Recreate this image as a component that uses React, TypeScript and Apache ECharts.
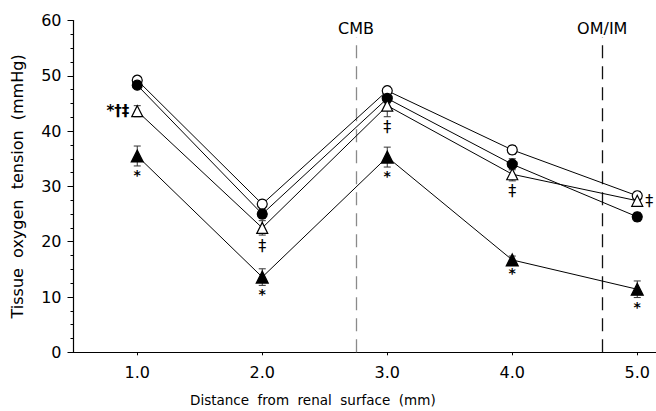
import React, { useEffect, useRef } from "react";
import * as echarts from "echarts";

const xValues = [1.0, 2.0, 3.0, 4.0, 5.0];
const openCircle = [49.2, 26.8, 47.3, 36.6, 28.3];
const openCircleErr = [0.6, 0.7, 0.8, 0.8, 0.8];
const filledCircle = [48.3, 25.0, 45.9, 34.0, 24.5];
const filledCircleErr = [0.5, 0.8, 0.8, 1.0, 0.8];
const openTriangle = [43.6, 22.5, 44.6, 32.2, 27.4];
const openTriangleErr = [1.0, 1.3, 2.0, 1.2, 1.0];
const filledTriangle = [35.5, 13.6, 35.3, 16.7, 11.4];
const filledTriangleErr = [1.8, 1.5, 1.8, 0.7, 1.5];

const yTicks = [0, 10, 20, 30, 40, 50, 60];
const xTickLabels = ["1.0", "2.0", "3.0", "4.0", "5.0"];

const boundaryX = [2.75, 4.72];
const boundaryLabels = ["CMB", "OM/IM"];
const boundaryColors = ["#8a8a8a", "#111111"];

// annotations: text, series index, x index, placement
const annoText = ["*", "*", "*", "*", "*", "*†‡", "‡", "‡", "‡", "‡"];
const annoSeries = [3, 3, 3, 3, 3, 2, 2, 2, 2, 2];
const annoIndex = [0, 1, 2, 3, 4, 0, 1, 2, 3, 4];
const annoPlace = ["below", "below", "below", "below", "below", "left", "below", "below", "below", "right"];

const seriesValues = [openCircle, filledCircle, openTriangle, filledTriangle];
const seriesErrs = [openCircleErr, filledCircleErr, openTriangleErr, filledTriangleErr];

const FONT = "DejaVu Sans";

export default function App() {
  const ref = useRef<HTMLDivElement>(null);
  useEffect(() => {
    if (!ref.current) return;
    const chart = echarts.init(ref.current, null, { renderer: "svg" });

    const lineSeries = (name: string, vals: number[], symbol: string, size: number, fill: string) => ({
      name,
      type: "line",
      data: xValues.map((x, i) => [x, vals[i]]),
      symbol,
      symbolSize: size,
      showAllSymbol: true,
      lineStyle: { color: "#000", width: 1 },
      itemStyle: { color: fill, borderColor: "#000", borderWidth: 1.2, opacity: 1 },
      z: 5,
      emphasis: { disabled: true },
    });

    const errData: number[][] = [];
    seriesValues.forEach((vals, s) => {
      vals.forEach((v, i) => errData.push([xValues[i], v - seriesErrs[s][i], v + seriesErrs[s][i]]));
    });

    const annoData = annoText.map((t, k) => {
      const s = annoSeries[k];
      const i = annoIndex[k];
      return [xValues[i], seriesValues[s][i], seriesErrs[s][i], k];
    });

    chart.setOption({
      animation: false,
      color: ["#000"],
      grid: { left: 73.5, right: 0, top: 20.5, bottom: 58.7, containLabel: false },
      xAxis: {
        type: "value",
        min: 0.49,
        max: 5.15,
        interval: 1,
        axisLine: { show: true, onZero: false, lineStyle: { color: "#000", width: 1.2 } },
        axisTick: { show: true, length: 3, lineStyle: { color: "#000" }, customValues: xValues },
        axisLabel: {
          customValues: xValues,
          formatter: (v: number) => xTickLabels[xValues.indexOf(v)] ?? "",
          color: "#000",
          fontFamily: FONT,
          fontSize: 16,
          margin: 12,
        },
        splitLine: { show: false },
      },
      yAxis: {
        type: "value",
        min: 0,
        max: 60,
        interval: 10,
        axisLine: { show: true, lineStyle: { color: "#000", width: 1.2 } },
        axisTick: { show: true, length: 6, lineStyle: { color: "#000" } },
        minorTick: { show: true, splitNumber: 4, length: 3, lineStyle: { color: "#000" } },
        axisLabel: {
          formatter: (v: number) => (yTicks.includes(v) ? String(v) : ""),
          color: "#000",
          fontFamily: FONT,
          fontSize: 16,
          margin: 12,
        },
        splitLine: { show: false },
        name: "Tissue  oxygen  tension  (mmHg)",
        nameLocation: "middle",
        nameGap: 48,
        nameTextStyle: { color: "#000", fontFamily: FONT, fontSize: 16, padding: [0, 0, 0, 0] },
      },
      graphic: [
        {
          type: "text",
          left: 190,
          top: 393,
          style: {
            text: "Distance  from  renal  surface  (mm)",
            fill: "#000",
            font: `13.5px "${FONT}"`,
          },
        },
      ],
      series: [
        lineSeries("open circle", openCircle, "circle", 10, "#fff"),
        lineSeries("filled circle", filledCircle, "circle", 10, "#000"),
        lineSeries("open triangle", openTriangle, "triangle", 11, "#fff"),
        lineSeries("filled triangle", filledTriangle, "triangle", 12, "#000"),
        {
          type: "custom",
          name: "error bars",
          data: errData,
          z: 4,
          itemStyle: { color: "#333" },
          renderItem: (params: any, api: any) => {
            const x = api.value(0);
            const lo = api.coord([x, api.value(1)]);
            const hi = api.coord([x, api.value(2)]);
            const w = 3.5;
            const style = { stroke: "#333", lineWidth: 1 };
            return {
              type: "group",
              children: [
                { type: "line", shape: { x1: lo[0], y1: lo[1], x2: hi[0], y2: hi[1] }, style },
                { type: "line", shape: { x1: lo[0] - w, y1: lo[1], x2: lo[0] + w, y2: lo[1] }, style },
                { type: "line", shape: { x1: hi[0] - w, y1: hi[1], x2: hi[0] + w, y2: hi[1] }, style },
              ],
            };
          },
        },
        {
          type: "custom",
          name: "annotations",
          data: annoData,
          z: 6,
          itemStyle: { color: "#000" },
          renderItem: (params: any, api: any) => {
            const x = api.value(0);
            const v = api.value(1);
            const e = api.value(2);
            const k = api.value(3);
            const place = annoPlace[k];
            const text = annoText[k];
            const isDagger = text === "‡";
            if (place === "below") {
              const p = api.coord([x, v - e]);
              return {
                type: "text",
                style: {
                  x: p[0],
                  y: p[1] + 2,
                  text,
                  fill: "#000",
                  font: isDagger ? `normal 16px "${FONT}"` : `bold 14px "${FONT}"`,
                  align: "center",
                  verticalAlign: "top",
                },
              };
            }
            const p = api.coord([x, v]);
            return {
              type: "text",
              style: {
                x: place === "left" ? p[0] - 8 : p[0] + 8,
                y: p[1],
                text,
                fill: "#000",
                font: isDagger ? `normal 16px "${FONT}"` : `bold 15px "${FONT}"`,
                align: place === "left" ? "right" : "left",
                verticalAlign: "middle",
              },
            };
          },
        },
        {
          type: "line",
          name: "boundaries",
          data: [],
          markLine: {
            silent: true,
            symbol: "none",
            animation: false,
            data: boundaryX.map((bx, i) => [
              {
                coord: [bx, 0],
                lineStyle: { color: boundaryColors[i], type: [13, 8], width: 1.3 },
              },
              {
                coord: [bx, 57],
                label: {
                  show: true,
                  position: "end",
                  formatter: boundaryLabels[i],
                  color: "#000",
                  fontFamily: FONT,
                  fontSize: 16,
                  distance: 1,
                },
              },
            ]),
          },
        },
      ],
    });
    return () => chart.dispose();
  }, []);
  return <div ref={ref} style={{ width: 656, height: 411, position: "absolute", left: 0, top: 0 }} />;
}
